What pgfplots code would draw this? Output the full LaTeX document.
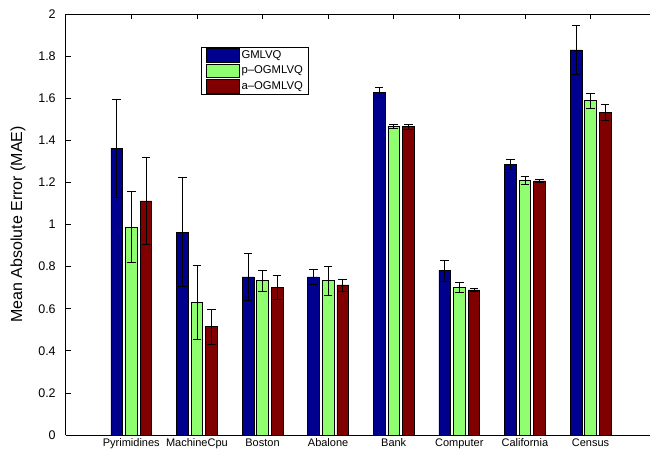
\documentclass[border=0pt]{standalone}
\usepackage{pgfplots}
\usepackage{pgfplotstable}
\pgfplotsset{compat=1.18}
\usepackage{fontspec}
\setmainfont{Liberation Sans}
\definecolor{cBlue}{RGB}{0,0,143}
\definecolor{cGreen}{RGB}{143,255,112}
\definecolor{cRed}{RGB}{128,0,0}

\pgfplotstableread{
x g ge p pe a ae
1 1.363 0.232 0.988 0.169 1.112 0.208
2 0.964 0.259 0.632 0.176 0.515 0.084
3 0.751 0.110 0.733 0.050 0.702 0.058
4 0.751 0.037 0.733 0.068 0.713 0.028
5 1.628 0.025 1.466 0.008 1.465 0.011
6 0.782 0.050 0.700 0.024 0.689 0.008
7 1.287 0.025 1.211 0.018 1.207 0.006
8 1.830 0.115 1.588 0.034 1.531 0.038
}\datatable

\pgfplotsset{
  errstyle/.style={draw=none, mark=none, forget plot,
    error bars/.cd, y dir=both, y explicit,
    error bar style={black, line width=0.6bp},
    error mark=|,
    error mark options={black, mark size=4.3bp, line width=0.6bp}},
  barstyle/.style={ybar, bar width=0.178, draw=black, line width=0.5bp},
}

\begin{document}
\begin{tikzpicture}
\path[use as bounding box] (-65.7bp,-17bp) rectangle (584.3bp,435bp);
\begin{axis}[
  at={(0,0)}, anchor=south west,
  scale only axis, width=584.3bp, height=421bp,
  xmin=0, xmax=8.907, ymin=0, ymax=2,
  axis x line=box, axis y line=left,
  axis line style={-, black, line width=0.6bp},
  every outer y axis line/.append style={-},
  tick align=inside,
  major tick length=5.5bp,
  tick style={black, line width=0.6bp},
  xtick={1,2,3,4,5,6,7,8},
  xticklabels={Pyrimidines,MachineCpu,Boston,Abalone,Bank,Computer,California,Census},
  ytick={0,0.2,0.4,0.6,0.8,1,1.2,1.4,1.6,1.8,2},
  /pgf/number format/assume math mode=true,
  xticklabel style={font=\fontsize{11bp}{13bp}\selectfont},
  yticklabel style={font=\fontsize{12.5bp}{14bp}\selectfont, xshift=-6.5bp},
  every axis y label/.style={at={(axis description cs:-0.0816,0.5)}, rotate=90, anchor=center},
  ylabel={\fontsize{16bp}{18bp}\selectfont Mean Absolute Error (MAE)},
  legend image code/.code={\draw[#1, draw=black, line width=0.5bp] (0bp,-6.7bp) rectangle (33bp,6.7bp);},
  legend style={at={(rel axis cs:0.2311,0.9216)}, anchor=north west, draw=black, line width=0.6bp,
    font=\fontsize{11.3bp}{13bp}\selectfont, inner xsep=4.5bp, inner ysep=1bp, row sep=1.5bp,
    nodes={inner sep=1bp},
    /tikz/every odd column/.append style={column sep=1.5bp}},
  legend cell align=left,
]
\addplot[barstyle, bar shift=-0.222, fill=cBlue] table[x=x, y=g]{\datatable};
\addlegendentry{GMLVQ}
\addplot[barstyle, bar shift=0, fill=cGreen] table[x=x, y=p]{\datatable};
\addlegendentry{p--OGMLVQ}
\addplot[barstyle, bar shift=0.222, fill=cRed] table[x=x, y=a]{\datatable};
\addlegendentry{a--OGMLVQ}
\addplot[errstyle] table[x expr=\thisrow{x}-0.222, y=g, y error=ge]{\datatable};
\addplot[errstyle] table[x=x, y=p, y error=pe]{\datatable};
\addplot[errstyle] table[x expr=\thisrow{x}+0.222, y=a, y error=ae]{\datatable};
\end{axis}
\end{tikzpicture}
\end{document}
